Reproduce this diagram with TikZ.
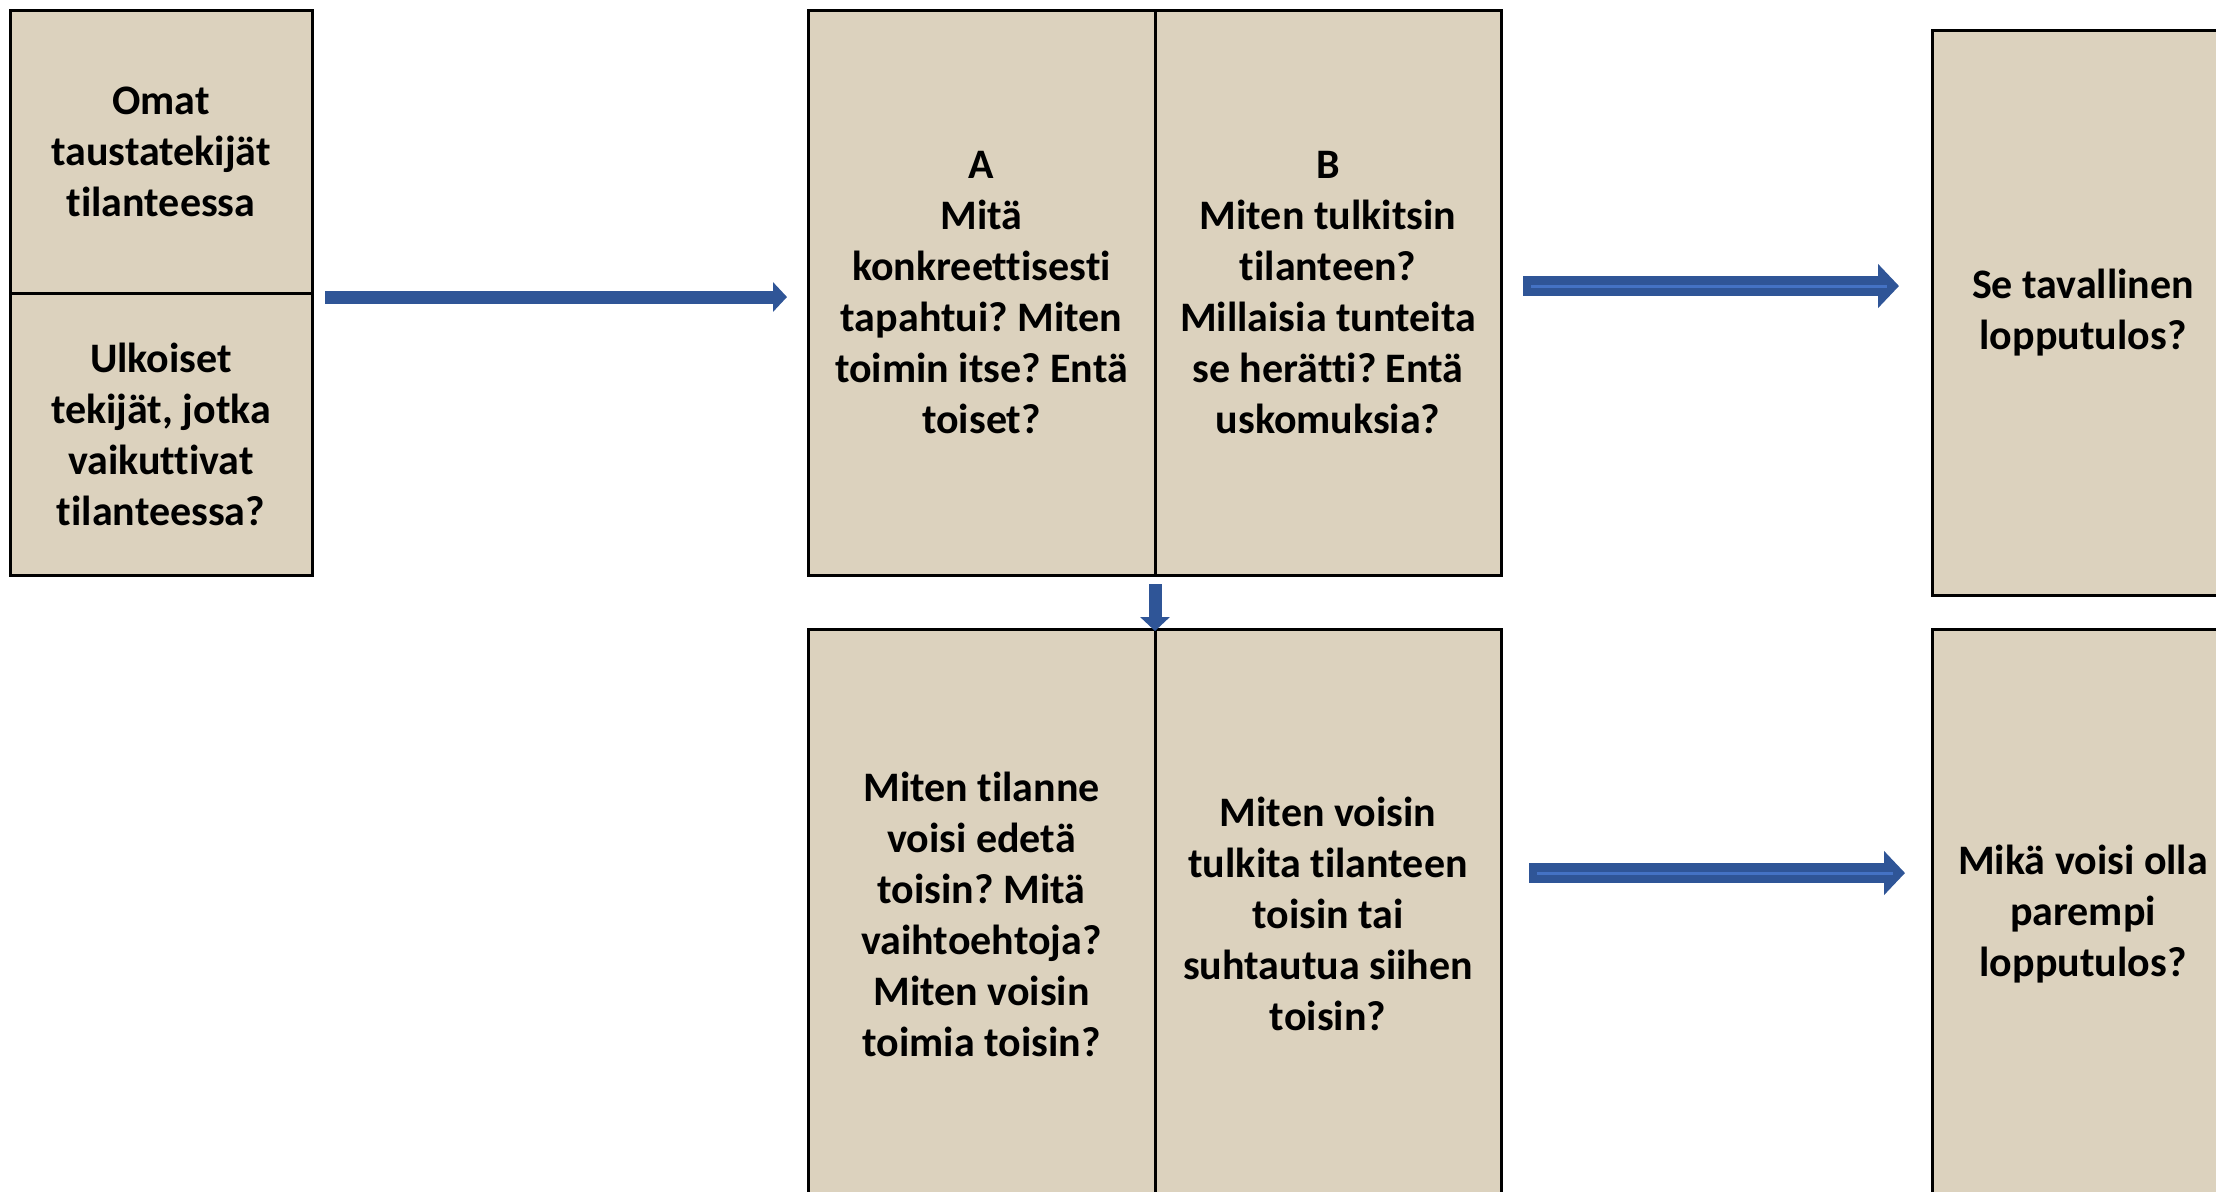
\documentclass[tikz,border=0pt]{standalone}
\usepackage{fontspec}
\setmainfont{Carlito}[Ligatures=NoCommon]
\usetikzlibrary{positioning,arrows.meta,calc}
\definecolor{linen}{HTML}{DCD2BE}
\definecolor{arrblue}{HTML}{2F5597}
\definecolor{arrlight}{HTML}{4472C4}
\frenchspacing

\begin{document}
\begin{tikzpicture}[x=0.5pt,y=-0.5pt,
        box/.style={draw=black,line width=1.5pt,fill=linen,inner sep=0pt,outer sep=0pt,align=center,
            font=\fontsize{21}{25.5}\selectfont\bfseries},
        thinarr/.style={arrblue,line width=6.5pt,-{Triangle[width=14.5pt,length=7pt]}},
        widearr/.style={arrblue,line width=10pt,-{Triangle[width=21.5pt,length=10.5pt]}},
        stripe/.style={arrlight,line width=1.5pt}]
                \useasboundingbox (0,0) rectangle (2216,1191);
                \clip (0,0) rectangle (2216,1191);
                % taustatekijat
                \node[box,minimum width=151pt,minimum height=141.5pt] (omat) at (161,151.5) {Omat\\taustatekijät\\tilanteessa};
                \node[box,minimum width=151pt,minimum height=141pt,below=0pt of omat] (ulk) {Ulkoiset\\tekijät, jotka\\vaikuttivat\\tilanteessa?};
                % A ja B
                \node[box,minimum width=173.5pt,minimum height=282.5pt] (midA) at (981.5,292.5) {A\\Mitä\\konkreettisesti\\tapahtui? Miten\\toimin itse? Entä\\toiset?};
                \node[box,minimum width=173pt,minimum height=282.5pt,right=0pt of midA] (midB) {B\\Miten tulkitsin\\tilanteen?\\Millaisia tunteita\\se herätti? Entä\\uskomuksia?};
                \node[box,minimum width=173.5pt,minimum height=285pt] (botA) at (981.5,914) {Miten tilanne\\voisi edetä\\toisin? Mitä\\vaihtoehtoja?\\Miten voisin\\toimia toisin?};
                \node[box,minimum width=173pt,minimum height=285pt,right=0pt of botA] (botB) {Miten voisin\\tulkita tilanteen\\toisin tai\\suhtautua siihen\\toisin?};
                % lopputulos
                \node[box,minimum width=151pt,minimum height=282.5pt] (tavall) at (2083,312.5) {Se tavallinen\\lopputulos?};
                \node[box,minimum width=151pt,minimum height=285pt] (parempi) at (2083,914) {Mikä voisi olla\\parempi\\lopputulos?};
                % nuolet
                \draw[thinarr] ($(omat.south east)+(13,4)$) -- ($(midA.west)+(-21,4.5)$);
                \draw[thinarr] ($(midA.south east)+(0,9)$) -- ($(botA.north east)+(0,2)$);
                \draw[widearr] ($(midB.east)+(22,-6.5)$) -- ($(tavall.west)+(-33,-26.5)$);
                \draw[stripe] ($(midB.east)+(30,-6.5)$) -- ($(tavall.west)+(-45,-26.5)$);
                \draw[widearr] ($(botB.east)+(28,-41)$) -- ($(parempi.west)+(-27,-41)$);
                \draw[stripe] ($(botB.east)+(36,-41)$) -- ($(parempi.west)+(-39,-41)$);
            \end{tikzpicture}
\end{document}
